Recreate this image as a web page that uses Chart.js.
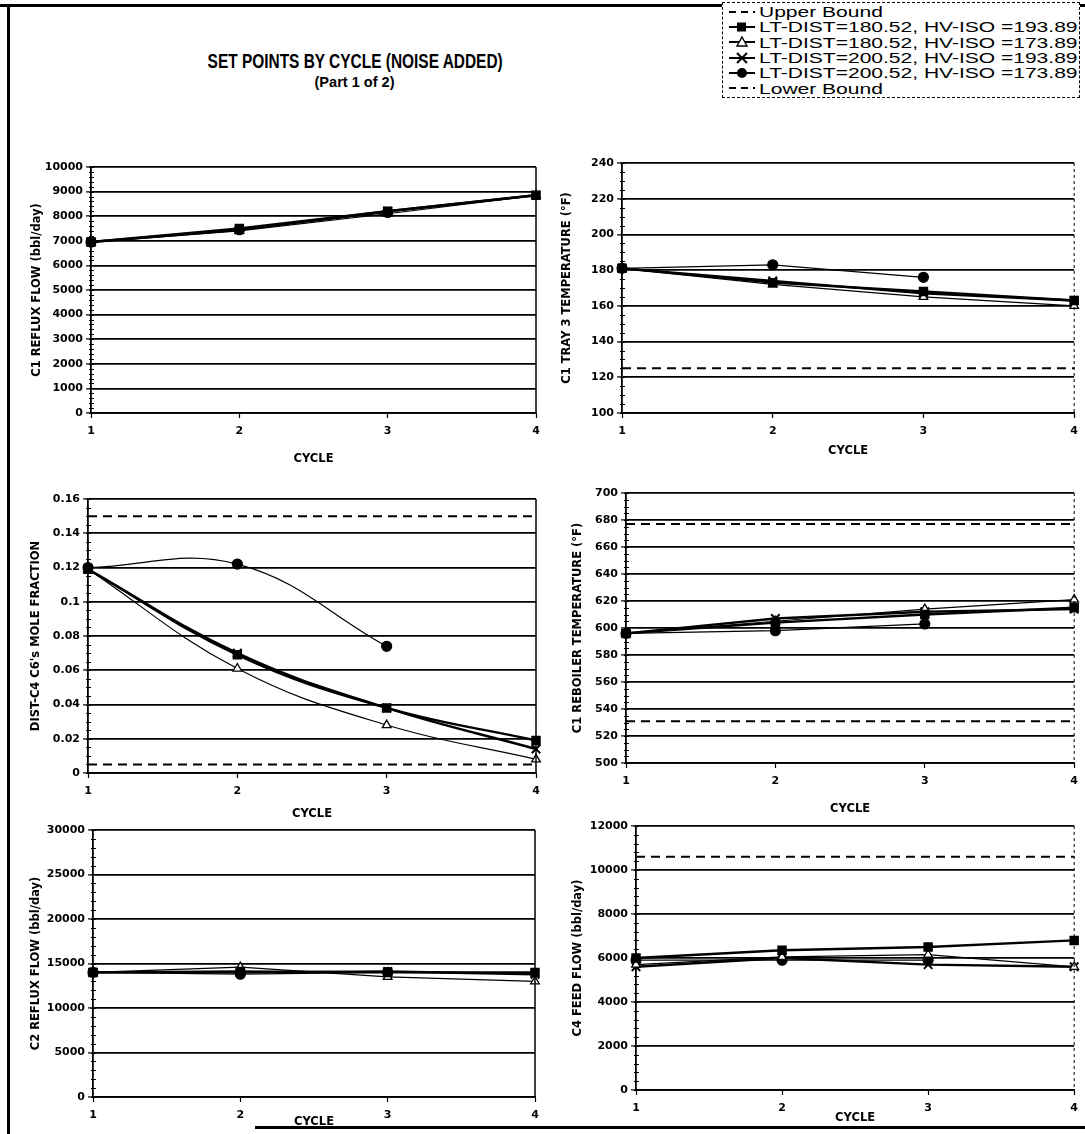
<!DOCTYPE html>
<html>
<head>
<meta charset="utf-8">
<script src="https://cdn.jsdelivr.net/npm/chart.js@4.4.1/dist/chart.umd.min.js"></script>
<style>
  body { margin: 0; background: #fff; }
  #page { position: relative; width: 1085px; height: 1134px; overflow: hidden; background: #fff;
          font-family: "Liberation Sans", Arial, sans-serif; color: #000; }
  .panel { position: absolute; }
  .rule { position: absolute; background: #000; }
  .ttl { position: absolute; left: 155px; width: 400px; text-align: center; font-weight: bold; white-space: nowrap; }
  .ttl span { display: inline-block; transform-origin: center center; }
  #legend { position: absolute; left: 722px; top: 2px; width: 358px; height: 96px; background: #fff;
            border: 1px dashed #000; box-sizing: border-box; padding-top: 1px; }
  .lrow { height: 15.3px; display: flex; align-items: center; font-size: 15px; line-height: 15px; white-space: nowrap; }
  .lrow svg { width: 30px; height: 14px; margin-left: 4px; margin-right: 2px; flex: none; }
  .lrow span { display: inline-block; transform-origin: left center; }
</style>
</head>
<body>
<div id="page">
  <div class="rule" style="left:0;top:4px;width:1085px;height:3px"></div>
  <div class="rule" style="left:7px;top:4px;width:3px;height:1130px"></div>
  <div class="rule" style="left:255px;top:1126px;width:830px;height:3px"></div>

  <div class="ttl" style="top:50px;font-size:20px"><span id="t1">SET POINTS BY CYCLE (NOISE ADDED)</span></div>
  <div class="ttl" style="top:74px;font-size:14px"><span id="t2">(Part 1 of 2)</span></div>

  <div id="legend"></div>

  <div class="panel" id="p1"><canvas id="c1"></canvas></div>
  <div class="panel" id="p2"><canvas id="c2"></canvas></div>
  <div class="panel" id="p3"><canvas id="c3"></canvas></div>
  <div class="panel" id="p4"><canvas id="c4"></canvas></div>
  <div class="panel" id="p5"><canvas id="c5"></canvas></div>
  <div class="panel" id="p6"><canvas id="c6"></canvas></div>
</div>

<script>
// ---- data ----
const cycles = [1, 2, 3, 4];
const seriesNames = [
  'LT-DIST=180.52, HV-ISO =193.89',
  'LT-DIST=180.52, HV-ISO =173.89',
  'LT-DIST=200.52, HV-ISO =193.89',
  'LT-DIST=200.52, HV-ISO =173.89'
];

// C1 reflux flow (bbl/day)
const c1RefluxSq  = [6950, 7500, 8200, 8850];
const c1RefluxTri = [6950, 7400, 8100, 8850];
const c1RefluxX   = [6950, 7450, 8200, 8850];
const c1RefluxDot = [6950, 7450, 8150, null];

// C1 tray 3 temperature (F)
const tray3Sq  = [181, 173, 168, 163];
const tray3Tri = [181, 172, 165, 160];
const tray3X   = [181, 174, 167, 163];
const tray3Dot = [181, 183, 176, null];
const tray3Lower = [125, 125, 125, 125];

// DIST-C4 C6's mole fraction
const c6Sq  = [0.119, 0.069, 0.038, 0.019];
const c6Tri = [0.119, 0.061, 0.028, 0.008];
const c6X   = [0.119, 0.070, 0.038, 0.014];
const c6Dot = [0.120, 0.122, 0.074, null];
const c6Upper = [0.15, 0.15, 0.15, 0.15];
const c6Lower = [0.005, 0.005, 0.005, 0.005];

// C1 reboiler temperature (F)
const rebSq  = [596, 604, 610, 615];
const rebTri = [596, 605, 614, 621];
const rebX   = [596, 607, 612, 614];
const rebDot = [596, 598, 603, null];
const rebUpper = [677, 677, 677, 677];
const rebLower = [531, 531, 531, 531];

// C2 reflux flow (bbl/day)
const c2RefluxSq  = [14000, 14100, 14000, 14000];
const c2RefluxTri = [14000, 14600, 13500, 13000];
const c2RefluxX   = [14000, 14000, 14100, 13800];
const c2RefluxDot = [14000, 13800, 14000, null];

// C4 feed flow (bbl/day)
const feedSq  = [6000, 6350, 6500, 6800];
const feedTri = [5700, 6050, 6150, 5600];
const feedX   = [5600, 6000, 5700, 5600];
const feedDot = [5900, 5900, 5900, null];
const feedUpper = [10600, 10600, 10600, 10600];

// ---- styles ----
const FONT = "'DejaVu Sans', 'Liberation Sans', Arial, sans-serif";

function pts(arr) { return arr.map((v, i) => ({ x: cycles[i], y: v })); }

function seriesSets(sq, tri, x, dot, tension) {
  return [
    { label: seriesNames[0], data: pts(sq), borderColor: '#000', backgroundColor: '#000', borderWidth: 2.4,
      pointStyle: 'rect', pointRadius: 5, tension },
    { label: seriesNames[1], data: pts(tri), borderColor: '#000', backgroundColor: '#fff', borderWidth: 1.2,
      pointStyle: 'triangle', pointRadius: 5, pointBorderWidth: 1.3, tension },
    { label: seriesNames[2], data: pts(x), borderColor: '#000', backgroundColor: '#000', borderWidth: 2.4,
      pointStyle: 'crossRot', pointRadius: 6, pointBorderWidth: 2, tension },
    { label: seriesNames[3], data: pts(dot), borderColor: '#000', backgroundColor: '#000', borderWidth: 1.2,
      pointStyle: 'circle', pointRadius: 5, tension }
  ];
}

function boundSet(label, arr) {
  return { label, data: pts(arr), borderColor: '#000', borderWidth: 2, borderDash: [9, 6],
           pointRadius: 0, tension: 0 };
}

// small ticks along the value axis, and the right-hand frame line
const axisDeco = {
  id: 'axisDeco',
  afterDraw(chart, args, opts) {
    const ctx = chart.ctx, y = chart.scales.y, a = chart.chartArea;
    const step = chart.options.scales.y.ticks.stepSize / opts.minor;
    ctx.save();
    ctx.strokeStyle = '#000';
    ctx.lineWidth = 1;
    for (let k = 0; k <= opts.minor * 20; k++) {
      const v = y.min + k * step;
      if (v > y.max + step / 10) break;
      const py = Math.round(y.getPixelForValue(v)) + 0.5;
      ctx.beginPath(); ctx.moveTo(a.left - 2, py); ctx.lineTo(a.left + 3, py); ctx.stroke();
    }
    ctx.lineWidth = opts.rightDash ? 1 : 1.5;
    ctx.setLineDash(opts.rightDash ? [3, 3] : []);
    const rx = chart.scales.x.getPixelForValue(4);
    ctx.beginPath(); ctx.moveTo(rx, a.top); ctx.lineTo(rx, a.bottom); ctx.stroke();
    ctx.restore();
  }
};

function makePanel(p) {
  const wrap = document.getElementById(p.wrap);
  wrap.style.left = p.x0 + 'px';
  wrap.style.top = p.y0 + 'px';
  const cv = document.getElementById(p.canvas);
  cv.width = p.w; cv.height = p.h;
  cv.style.width = p.w + 'px'; cv.style.height = p.h + 'px';

  const datasets = [];
  if (p.upper) datasets.push(boundSet('Upper Bound', p.upper));
  datasets.push(...seriesSets(p.sq, p.tri, p.x, p.dot, p.tension || 0));
  if (p.lower) datasets.push(boundSet('Lower Bound', p.lower));

  return new Chart(cv, {
    type: 'line',
    data: { datasets },
    plugins: [axisDeco],
    options: {
      responsive: false,
      animation: false,
      datasets: { line: { clip: false } },
      layout: { padding: { left: 0, top: p.T - p.y0, right: p.x0 + p.w - p.R, bottom: 0 } },
      plugins: {
        legend: { display: false },
        tooltip: { enabled: false },
        axisDeco: { minor: p.minor, rightDash: p.rightDash }
      },
      scales: {
        x: {
          type: 'linear', min: 1, max: 4,
          afterFit: s => { s.height = p.y0 + p.h - p.B; },
          ticks: { stepSize: 1, color: '#000', padding: 7, font: { family: FONT, size: 11, weight: 'bold' } },
          grid: { tickLength: 5, tickColor: '#000', tickWidth: 1.2, color: 'rgba(0,0,0,0)' },
          border: { display: true, color: '#000', width: 1.8 },
          title: { display: true, text: 'CYCLE', color: '#000', padding: { top: 0, bottom: p.cyclePad },
                   font: { family: FONT, size: 11.5, weight: 'bold' } }
        },
        y: {
          min: p.yMin, max: p.yMax,
          afterFit: s => { s.width = p.L - p.x0; },
          ticks: { stepSize: p.step, color: '#000', padding: 3,
                   font: { family: FONT, size: 11, weight: 'bold' },
                   callback: v => String(Number(v.toFixed(4))) },
          grid: { color: '#000', lineWidth: 1.8, tickLength: 5, tickColor: '#000', tickWidth: 1.2 },
          border: { display: true, color: '#000', width: 1.8 },
          title: { display: true, text: p.yTitle, color: '#000', padding: { top: p.titlePad, bottom: 0 },
                   font: { family: FONT, size: 11.5, weight: 'bold' } }
        }
      }
    }
  });
}

// legend (HTML)
const legendRows = [
  { name: 'Upper Bound', mark: 'bound' },
  { name: seriesNames[0], mark: 'sq' },
  { name: seriesNames[1], mark: 'tri' },
  { name: seriesNames[2], mark: 'x' },
  { name: seriesNames[3], mark: 'dot' },
  { name: 'Lower Bound', mark: 'bound' }
];
function markSvg(m) {
  if (m === 'bound') return '<line x1="2" y1="7" x2="28" y2="7" stroke="#000" stroke-width="2" stroke-dasharray="7 5"/>';
  let s = '<line x1="2" y1="7" x2="28" y2="7" stroke="#000" stroke-width="2"/>';
  if (m === 'sq') s += '<rect x="10" y="2.5" width="9" height="9" fill="#000"/>';
  if (m === 'tri') s += '<polygon points="15,2 20,11 10,11" fill="#fff" stroke="#000" stroke-width="1.4"/>';
  if (m === 'x') s += '<line x1="10" y1="2" x2="20" y2="12" stroke="#000" stroke-width="2"/><line x1="20" y1="2" x2="10" y2="12" stroke="#000" stroke-width="2"/>';
  if (m === 'dot') s += '<circle cx="15" cy="7" r="5" fill="#000"/>';
  return s;
}
const legendEl = document.getElementById('legend');
const spans = legendRows.map(r => {
  const row = document.createElement('div');
  row.className = 'lrow';
  row.innerHTML = '<svg viewBox="0 0 30 14">' + markSvg(r.mark) + '</svg><span>' + r.name + '</span>';
  legendEl.appendChild(row);
  return row.querySelector('span');
});
// the scanned legend text is wide; stretch to the same width
const legendScale = 318 / spans[1].offsetWidth;
spans.forEach(s => { s.style.transform = 'scaleX(' + legendScale.toFixed(3) + ')'; });

// title is condensed in the scan
const t1 = document.getElementById('t1');
t1.style.transform = 'scaleX(' + (295 / t1.offsetWidth).toFixed(3) + ')';
const t2 = document.getElementById('t2');
t2.style.transform = 'scaleX(' + (80 / t2.offsetWidth).toFixed(3) + ')';

makePanel({ wrap: 'p1', canvas: 'c1', x0: 20, y0: 150, w: 535, h: 320, L: 91, T: 167, R: 536, B: 413,
  yMin: 0, yMax: 10000, step: 1000, minor: 5, yTitle: 'C1 REFLUX FLOW (bbl/day)', titlePad: 10, cyclePad: 4,
  sq: c1RefluxSq, tri: c1RefluxTri, x: c1RefluxX, dot: c1RefluxDot });

makePanel({ wrap: 'p2', canvas: 'c2', x0: 555, y0: 145, w: 530, h: 316, L: 622, T: 163, R: 1080, B: 413,
  yMin: 100, yMax: 240, step: 20, minor: 4, yTitle: 'C1 TRAY 3 TEMPERATURE (\u00b0F)', titlePad: 5, cyclePad: 3,
  rightDash: true, sq: tray3Sq, tri: tray3Tri, x: tray3X, dot: tray3Dot, lower: tray3Lower });

makePanel({ wrap: 'p3', canvas: 'c3', x0: 20, y0: 480, w: 535, h: 344, L: 88, T: 499, R: 536, B: 773,
  yMin: 0, yMax: 0.16, step: 0.02, minor: 4, yTitle: "DIST-C4 C6's MOLE FRACTION", titlePad: 9, cyclePad: 3,
  tension: 0.4, sq: c6Sq, tri: c6Tri, x: c6X, dot: c6Dot, upper: c6Upper, lower: c6Lower });

makePanel({ wrap: 'p4', canvas: 'c4', x0: 555, y0: 475, w: 530, h: 344, L: 626, T: 493, R: 1080, B: 763,
  yMin: 500, yMax: 700, step: 20, minor: 4, yTitle: 'C1 REBOILER TEMPERATURE (\u00b0F)', titlePad: 16, cyclePad: 3,
  rightDash: true, sq: rebSq, tri: rebTri, x: rebX, dot: rebDot, upper: rebUpper, lower: rebLower });

makePanel({ wrap: 'p5', canvas: 'c5', x0: 20, y0: 815, w: 535, h: 320, L: 93, T: 830, R: 535, B: 1097,
  yMin: 0, yMax: 30000, step: 5000, minor: 5, yTitle: 'C2 REFLUX FLOW (bbl/day)', titlePad: 9, cyclePad: 6,
  sq: c2RefluxSq, tri: c2RefluxTri, x: c2RefluxX, dot: c2RefluxDot });

makePanel({ wrap: 'p6', canvas: 'c6', x0: 555, y0: 810, w: 530, h: 319, L: 636, T: 826, R: 1080, B: 1090,
  yMin: 0, yMax: 12000, step: 2000, minor: 5, yTitle: 'C4 FEED FLOW (bbl/day)', titlePad: 16, cyclePad: 4,
  rightDash: true, sq: feedSq, tri: feedTri, x: feedX, dot: feedDot, upper: feedUpper });
</script>
</body>
</html>
